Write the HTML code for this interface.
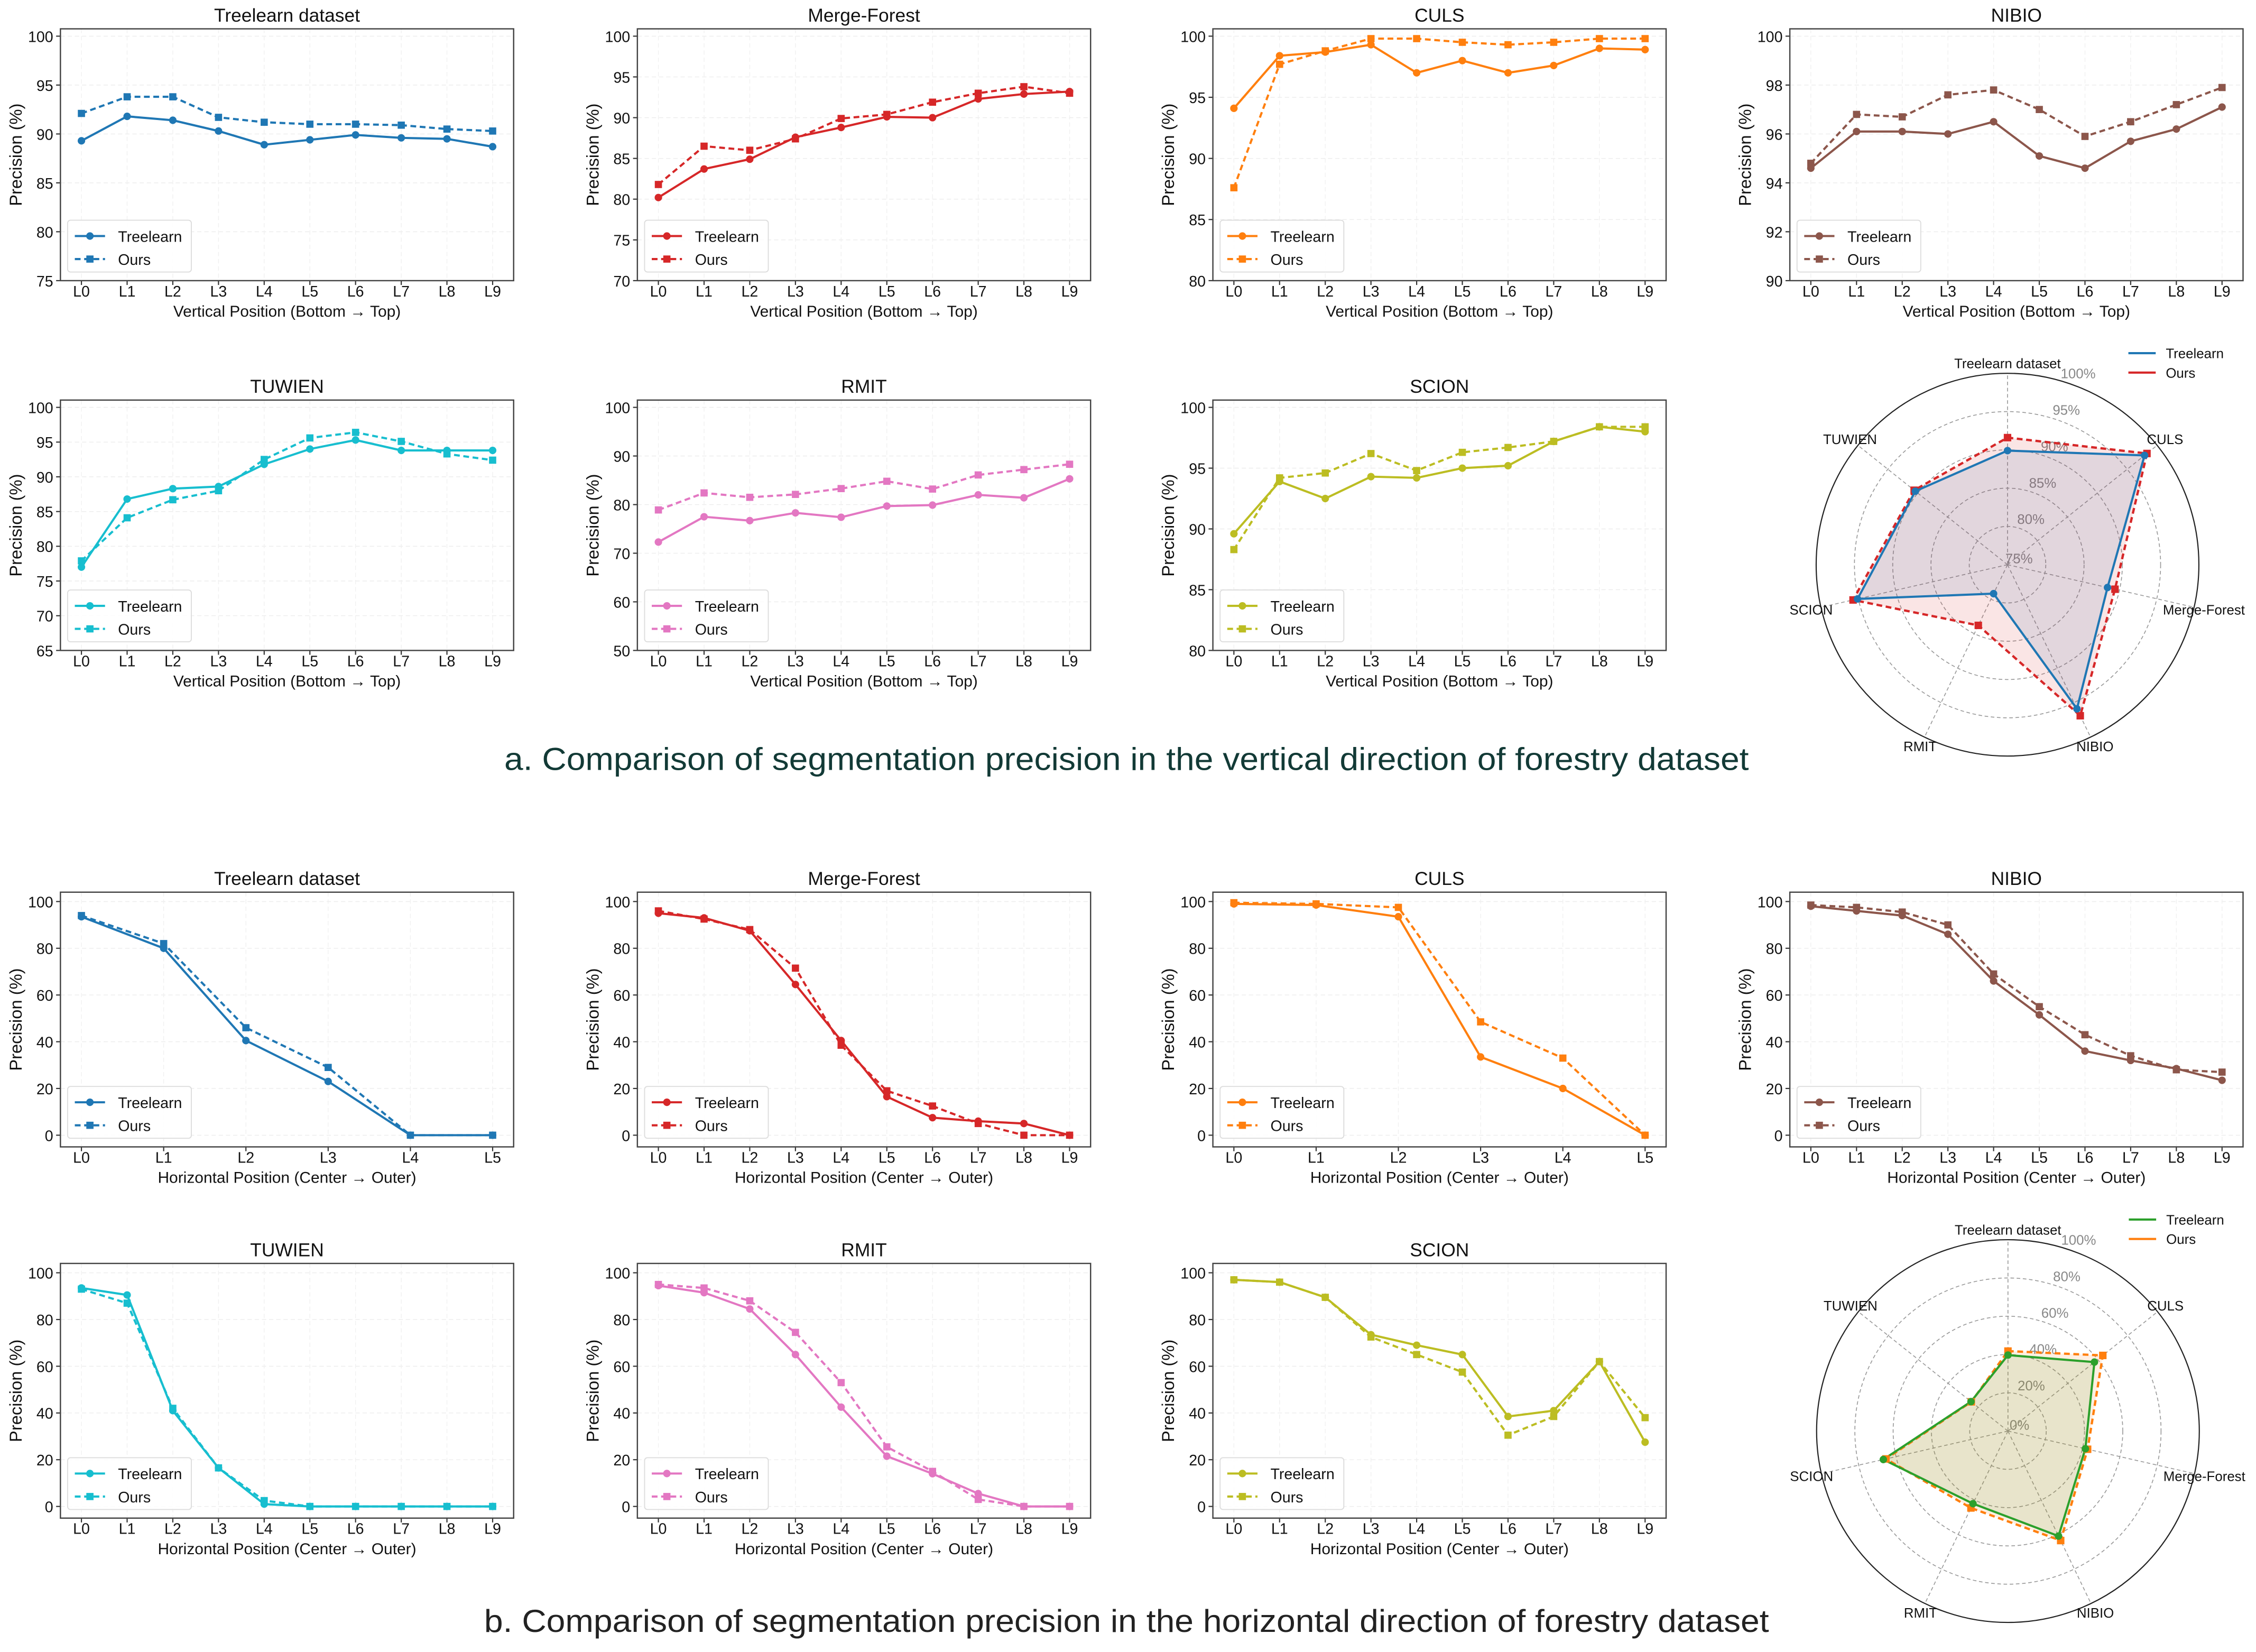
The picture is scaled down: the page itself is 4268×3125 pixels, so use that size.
<!DOCTYPE html>
<html><head><meta charset="utf-8">
<style>
html,body{margin:0;padding:0;background:#fff;}
svg{display:block;}
text{font-family:"Liberation Sans","DejaVu Sans",sans-serif;}
</style></head>
<body>
<svg id="fig" xmlns="http://www.w3.org/2000/svg" width="4268" height="3125" viewBox="0 0 1568 1148">
<rect x="0" y="0" width="1568" height="1148" fill="#fff"/>
<text x="783" y="535" text-anchor="middle" font-size="22" fill="#123a36" textLength="865" lengthAdjust="spacingAndGlyphs">a. Comparison of segmentation precision in the vertical direction of forestry dataset</text>
<text x="783" y="1134" text-anchor="middle" font-size="22" fill="#222" textLength="893" lengthAdjust="spacingAndGlyphs">b. Comparison of segmentation precision in the horizontal direction of forestry dataset</text>
</svg>
<script>
// ---------- data: vertical (row a) ----------
const levels10 = ["L0","L1","L2","L3","L4","L5","L6","L7","L8","L9"];
const levels6 = ["L0","L1","L2","L3","L4","L5"];
const vTreelearnT = [89.3,91.8,91.4,90.3,88.9,89.4,89.9,89.6,89.5,88.7];
const vTreelearnO = [92.1,93.8,93.8,91.7,91.2,91.0,91.0,90.9,90.5,90.3];
const vMergeT = [80.2,83.7,84.9,87.6,88.8,90.1,90.0,92.3,92.9,93.2];
const vMergeO = [81.8,86.5,86.0,87.4,89.9,90.4,91.9,93.0,93.8,93.0];
const vCulsT = [94.1,98.4,98.7,99.3,97.0,98.0,97.0,97.6,99.0,98.9];
const vCulsO = [87.6,97.7,98.8,99.8,99.8,99.5,99.3,99.5,99.8,99.8];
const vNibioT = [94.6,96.1,96.1,96.0,96.5,95.1,94.6,95.7,96.2,97.1];
const vNibioO = [94.8,96.8,96.7,97.6,97.8,97.0,95.9,96.5,97.2,97.9];
const vTuwienT = [77.0,86.8,88.3,88.6,91.8,94.0,95.3,93.8,93.8,93.8];
const vTuwienO = [77.9,84.1,86.7,88.0,92.5,95.6,96.4,95.1,93.3,92.4];
const vRmitT = [72.3,77.5,76.7,78.3,77.4,79.7,79.9,82.0,81.4,85.3];
const vRmitO = [78.9,82.4,81.5,82.1,83.3,84.8,83.2,86.1,87.2,88.3];
const vScionT = [89.6,93.9,92.5,94.3,94.2,95.0,95.2,97.2,98.4,98.0];
const vScionO = [88.3,94.2,94.6,96.2,94.8,96.3,96.7,97.2,98.4,98.4];
// ---------- data: horizontal (row b) ----------
const hTreelearnT = [93.5,80,40.5,23,0,0];
const hTreelearnO = [94,82,46,29,0,0];
const hMergeT = [95,93,87.5,64.5,40.5,16.5,7.5,6,5,0];
const hMergeO = [96,92.5,88,71.5,38.5,19,12.5,5,0,0];
const hCulsT = [99,98.5,93.5,33.5,20,0];
const hCulsO = [99.5,99,97.5,48.5,33,0];
const hNibioT = [98,96,94,86,66,51.5,36,32,28.5,23.5];
const hNibioO = [98.5,97.5,95.5,90,69,55,43,34,28,27];
const hTuwienT = [93.5,90.5,41,16.5,1,0,0,0,0,0];
const hTuwienO = [93,87,42,16.5,2.5,0,0,0,0,0];
const hRmitT = [94.5,91.5,84.5,65,42.5,21.5,14,5.5,0,0];
const hRmitO = [95,93.5,88,74.5,53,25.5,15,3,0,0];
const hScionT = [97,96,89.5,73.5,69,65,38.5,41,62,27.5];
const hScionO = [97,96,89.5,72.5,65,57.5,30.5,38.5,62,38];
// ---------- tick labels ----------
const ticksTreelearnV = [75,80,85,90,95,100];
const ticksMergeV = [70,75,80,85,90,95,100];
const ticksCulsV = [80,85,90,95,100];
const ticksNibioV = [90,92,94,96,98,100];
const ticksTuwienV = [65,70,75,80,85,90,95,100];
const ticksRmitV = [50,60,70,80,90,100];
const ticksScionV = [80,85,90,95,100];
const ticksH = [0,20,40,60,80,100];
// ---------- radar data ----------
const radarCats = ["Treelearn dataset","CULS","Merge-Forest","NIBIO","RMIT","SCION","TUWIEN"];
const radarVT = [89.9,97.9,88.4,95.9,79.2,95.1,90.4];
const radarVO = [91.6,98.3,89.4,96.9,83.8,95.7,90.6];
const radarVTicks = [75,80,85,90,95,100];
const radarHT = [39.7,57.8,41.5,60.9,42.1,66.8,24.7];
const radarHO = [41.8,63.4,42.7,63.5,44.6,65.4,24.5];
const radarHTicks = [0,20,40,60,80,100];

const NS = "http://www.w3.org/2000/svg";
const fig = document.getElementById('fig');
function mk(tag, attrs, parent){ const e=document.createElementNS(NS,tag); for(const k in attrs) e.setAttribute(k,attrs[k]); (parent||fig).appendChild(e); return e; }

const cols = [42, 443, 843, 1244];
const W = 315;
const rows = [[20,195],[278,452],[620,797],[878,1055]];

const panels = [
 {title:"Treelearn dataset", c:0,r:0, cats:levels10, t:vTreelearnT, o:vTreelearnO, ticks:ticksTreelearnV, color:"#1f77b4", xl:"Vertical Position (Bottom \u2192 Top)", h:false},
 {title:"Merge-Forest", c:1,r:0, cats:levels10, t:vMergeT, o:vMergeO, ticks:ticksMergeV, color:"#d62728", xl:"Vertical Position (Bottom \u2192 Top)", h:false},
 {title:"CULS", c:2,r:0, cats:levels10, t:vCulsT, o:vCulsO, ticks:ticksCulsV, color:"#ff7f0e", xl:"Vertical Position (Bottom \u2192 Top)", h:false},
 {title:"NIBIO", c:3,r:0, cats:levels10, t:vNibioT, o:vNibioO, ticks:ticksNibioV, color:"#8c564b", xl:"Vertical Position (Bottom \u2192 Top)", h:false},
 {title:"TUWIEN", c:0,r:1, cats:levels10, t:vTuwienT, o:vTuwienO, ticks:ticksTuwienV, color:"#17becf", xl:"Vertical Position (Bottom \u2192 Top)", h:false},
 {title:"RMIT", c:1,r:1, cats:levels10, t:vRmitT, o:vRmitO, ticks:ticksRmitV, color:"#e377c2", xl:"Vertical Position (Bottom \u2192 Top)", h:false},
 {title:"SCION", c:2,r:1, cats:levels10, t:vScionT, o:vScionO, ticks:ticksScionV, color:"#bcbd22", xl:"Vertical Position (Bottom \u2192 Top)", h:false},
 {title:"Treelearn dataset", c:0,r:2, cats:levels6, t:hTreelearnT, o:hTreelearnO, ticks:ticksH, color:"#1f77b4", xl:"Horizontal Position (Center  \u2192 Outer)", h:true},
 {title:"Merge-Forest", c:1,r:2, cats:levels10, t:hMergeT, o:hMergeO, ticks:ticksH, color:"#d62728", xl:"Horizontal Position (Center  \u2192 Outer)", h:true},
 {title:"CULS", c:2,r:2, cats:levels6, t:hCulsT, o:hCulsO, ticks:ticksH, color:"#ff7f0e", xl:"Horizontal Position (Center  \u2192 Outer)", h:true},
 {title:"NIBIO", c:3,r:2, cats:levels10, t:hNibioT, o:hNibioO, ticks:ticksH, color:"#8c564b", xl:"Horizontal Position (Center  \u2192 Outer)", h:true},
 {title:"TUWIEN", c:0,r:3, cats:levels10, t:hTuwienT, o:hTuwienO, ticks:ticksH, color:"#17becf", xl:"Horizontal Position (Center  \u2192 Outer)", h:true},
 {title:"RMIT", c:1,r:3, cats:levels10, t:hRmitT, o:hRmitO, ticks:ticksH, color:"#e377c2", xl:"Horizontal Position (Center  \u2192 Outer)", h:true},
 {title:"SCION", c:2,r:3, cats:levels10, t:hScionT, o:hScionO, ticks:ticksH, color:"#bcbd22", xl:"Horizontal Position (Center  \u2192 Outer)", h:true}
];

function slug(s){ return s.toLowerCase().replace(/[^a-z0-9]+/g,'-').replace(/-$/,''); }

panels.forEach(p=>{
  const x0=cols[p.c], x1=x0+W, y0=rows[p.r][0], y1=rows[p.r][1];
  const n=p.cats.length;
  const lo=p.h? -5 : p.ticks[0];
  const hi=p.h? 104 : p.ticks[p.ticks.length-1] + 0.03*(p.ticks[p.ticks.length-1]-p.ticks[0]);
  const M=14.6;
  const xs = i => x0 + M + i/(n-1)*(W-2*M);
  const ys = v => y1 - (v-lo)/(hi-lo)*(y1-y0);
  const g = mk('g',{});
  const pn = slug(p.title)+(p.h?'-horizontal':'-vertical');
  
  
  p.ticks.forEach(tv=>{
    const y=ys(tv);
    const gl=mk('line',{x1:x0,x2:x1,y1:y,y2:y,stroke:"#ececec","stroke-width":0.5,"stroke-dasharray":"3,2"},g);
    
    
    const tl=mk('line',{x1:x0-3,x2:x0,y1:y,y2:y,stroke:"#333","stroke-width":0.8},g);
    
    
    const tt=mk('text',{x:x0-5,y:y+4,"text-anchor":"end","font-size":10.5,fill:"#111"},g);
    tt.textContent=tv;
    
    
  });
  p.cats.forEach((c,i)=>{
    const x=xs(i);
    const gl=mk('line',{x1:x,x2:x,y1:y0,y2:y1,stroke:"#f0f0f0","stroke-width":0.5,"stroke-dasharray":"3,2"},g);
    
    
    const tl=mk('line',{x1:x,x2:x,y1:y1,y2:y1+3,stroke:"#333","stroke-width":0.8},g);
    
    
    const tt=mk('text',{x:x,y:y1+11,"text-anchor":"middle","font-size":10.5,fill:"#111"},g);
    tt.textContent=c;
    
    
  });
  const fr=mk('rect',{x:x0,y:y0,width:W,height:y1-y0,fill:"none",stroke:"#444","stroke-width":0.9},g);
  
  
  const ti=mk('text',{x:(x0+x1)/2,y:y0-5,"text-anchor":"middle","font-size":13,fill:"#111"},g);
  ti.textContent=p.title;
  
  
  const xl=mk('text',{x:(x0+x1)/2,y:y1+25,"text-anchor":"middle","font-size":11,fill:"#111"},g);
  xl.textContent=p.xl;
  
  
  const yc=(y0+y1)/2, yx=x0-27;
  const yl=mk('text',{x:yx,y:yc,"text-anchor":"middle","font-size":12,fill:"#111",transform:`rotate(-90 ${yx} ${yc})`},g);
  yl.textContent="Precision (%)";
  
  
  const ptsT=p.t.map((v,i)=>xs(i).toFixed(2)+","+ys(v).toFixed(2)).join(" ");
  const ptsO=p.o.map((v,i)=>xs(i).toFixed(2)+","+ys(v).toFixed(2)).join(" ");
  const lt=mk('polyline',{points:ptsT,fill:"none",stroke:p.color,"stroke-width":1.5},g);
  
  
  const lo2=mk('polyline',{points:ptsO,fill:"none",stroke:p.color,"stroke-width":1.5,"stroke-dasharray":"4,2.5"},g);
  
  
  p.t.forEach((v,i)=>{
    const m=mk('circle',{cx:xs(i),cy:ys(v),r:2.6,fill:p.color},g);
    
    
  });
  p.o.forEach((v,i)=>{
    const m=mk('rect',{x:xs(i)-2.5,y:ys(v)-2.5,width:5,height:5,fill:p.color},g);
    
    
  });
  const lx=x0+5, ly=y1-42;
  const lg=mk('g',{},g);
  
  
  mk('rect',{x:lx,y:ly,width:86,height:36,rx:2,fill:"#fff","fill-opacity":0.85,stroke:"#ddd","stroke-width":0.7},lg);
  const e1=mk('line',{x1:lx+5,x2:lx+26,y1:ly+11,y2:ly+11,stroke:p.color,"stroke-width":1.5},lg);
  
  
  mk('circle',{cx:lx+15.5,cy:ly+11,r:2.6,fill:p.color},lg);
  const t1=mk('text',{x:lx+35,y:ly+15,"font-size":10.5,fill:"#111"},lg); t1.textContent="Treelearn";
  const e2=mk('line',{x1:lx+5,x2:lx+26,y1:ly+27,y2:ly+27,stroke:p.color,"stroke-width":1.5,"stroke-dasharray":"4,2.5"},lg);
  
  
  mk('rect',{x:lx+13,y:ly+24.5,width:5,height:5,fill:p.color},lg);
  const t2=mk('text',{x:lx+35,y:ly+31,"font-size":10.5,fill:"#111"},lg); t2.textContent="Ours";
});

function radar(cx,cy,R,tv,ov,ticks,lo,hi,cT,cO,name){
  const g=mk('g',{});
  
  
  const n=radarCats.length;
  const ang=i=> -Math.PI/2 + i*2*Math.PI/n;
  const rr=v=>(v-lo)/(hi-lo)*R;
  const pt=(i,v)=>[cx+rr(v)*Math.cos(ang(i)), cy+rr(v)*Math.sin(ang(i))];
  ticks.forEach(t=>{
    if(t===lo) return;
    const c=mk('circle',{cx:cx,cy:cy,r:rr(t),fill:"none",stroke:t===hi?"#222":"#999","stroke-width":t===hi?0.8:0.6,"stroke-dasharray":t===hi?"none":"2.5,1.8"},g);
    
    
  });
  radarCats.forEach((c,i)=>{
    const [x,y]=pt(i,hi);
    const sp=mk('line',{x1:cx,y1:cy,x2:x,y2:y,stroke:"#999","stroke-width":0.6,"stroke-dasharray":"2.5,1.8"},g);
    
    
    const lx=cx+140*Math.cos(ang(i)), ly=cy+140*Math.sin(ang(i));
    const t=mk('text',{x:lx,y:ly+3.5,"text-anchor":"middle","font-size":9.5,fill:"#111"},g);
    t.textContent=c;
    
    
  });
  ticks.forEach(t=>{
    const a=-Math.PI/2+Math.PI/10;
    const r=rr(t);
    const tx=cx+r*Math.cos(a)+8, ty=cy+r*Math.sin(a)+ (t===lo?-1:-3);
    const lbl=mk('text',{x:tx,y:ty,"text-anchor":"middle","font-size":9.5,fill:"#888"},g);
    lbl.textContent=t+"%";
    
    
  });
  const pT=tv.map((v,i)=>pt(i,v)), pO=ov.map((v,i)=>pt(i,v));
  const s=a=>a.map(p=>p[0].toFixed(2)+","+p[1].toFixed(2)).join(" ");
  const fT=mk('polygon',{points:s(pT),fill:cT,"fill-opacity":0.12,stroke:"none"},g);
  
  
  const fO=mk('polygon',{points:s(pO),fill:cO,"fill-opacity":0.12,stroke:"none"},g);
  
  
  const lO=mk('polygon',{points:s(pO),fill:"none",stroke:cO,"stroke-width":1.6,"stroke-dasharray":"4,2.5"},g);
  
  
  const lT=mk('polygon',{points:s(pT),fill:"none",stroke:cT,"stroke-width":1.5},g);
  
  
  pO.forEach(p=>{ const m=mk('rect',{x:p[0]-2.6,y:p[1]-2.6,width:5.2,height:5.2,fill:cO},g);
    
     });
  pT.forEach(p=>{ const m=mk('circle',{cx:p[0],cy:p[1],r:2.6,fill:cT},g);
    
     });
  const lx=cx+84, ly=cy-147;
  const e1=mk('line',{x1:lx,x2:lx+19,y1:ly,y2:ly,stroke:cT,"stroke-width":1.5},g);
  
  
  const t1=mk('text',{x:lx+26,y:ly+3.5,"font-size":9.5,fill:"#111"},g); t1.textContent="Treelearn";
  const e2=mk('line',{x1:lx,x2:lx+19,y1:ly+13.5,y2:ly+13.5,stroke:cO,"stroke-width":1.5},g);
  
  
  const t2=mk('text',{x:lx+26,y:ly+17,"font-size":9.5,fill:"#111"},g); t2.textContent="Ours";
}
radar(1395.3,392.4,133,radarVT,radarVO,radarVTicks,75,100,"#1f77b4","#d62728","radar-vertical");
radar(1395.6,994.5,133,radarHT,radarHO,radarHTicks,0,100,"#2ca02c","#ff7f0e","radar-horizontal");
</script>
</body></html>
